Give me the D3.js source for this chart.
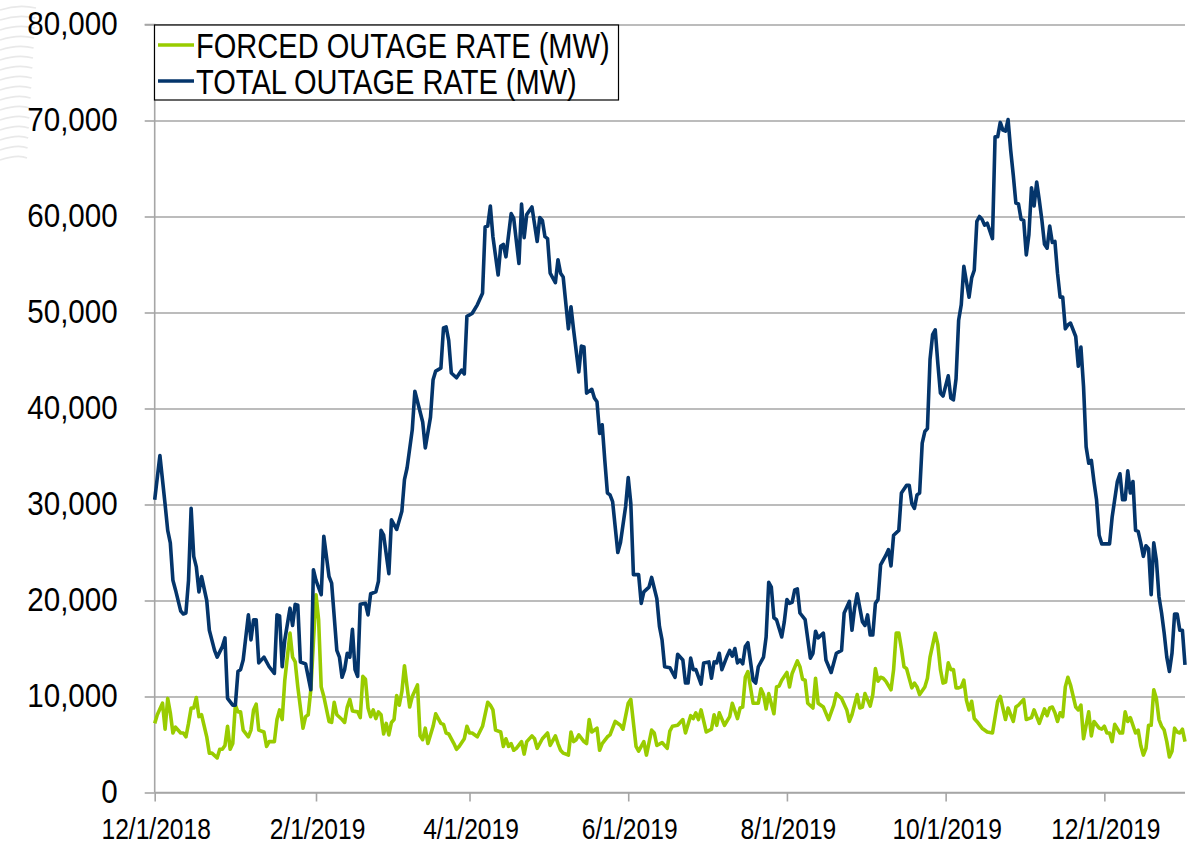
<!DOCTYPE html>
<html>
<head>
<meta charset="utf-8">
<script src="https://cdn.jsdelivr.net/npm/d3@7"></script>
<style>
  html, body { margin: 0; padding: 0; background: #ffffff; }
  svg { display: block; font-family: "Liberation Sans", Arial, sans-serif; }
</style>
</head>
<body>
<svg id="chart" width="1204" height="845"></svg>
<script>
'use strict';

// ---- data ----
const seriesNames = ["FORCED OUTAGE RATE (MW)", "TOTAL OUTAGE RATE (MW)"];
const seriesColors = ["#99cc00", "#04356b"];

const xTickDates = ["2018-12-01", "2019-02-01", "2019-04-01", "2019-06-01", "2019-08-01", "2019-10-01", "2019-12-01"];
const yTickValues = [0, 10000, 20000, 30000, 40000, 50000, 60000, 70000, 80000];

const totalDates = [
  "2018-12-01","2018-12-03","2018-12-05","2018-12-06","2018-12-07","2018-12-08","2018-12-09","2018-12-11","2018-12-12","2018-12-13","2018-12-14","2018-12-15","2018-12-16","2018-12-17","2018-12-18","2018-12-19","2018-12-21","2018-12-22","2018-12-24","2018-12-25","2018-12-27","2018-12-28","2018-12-29","2018-12-31",
  "2019-01-01","2019-01-02","2019-01-03","2019-01-04","2019-01-06","2019-01-07","2019-01-08","2019-01-09","2019-01-10","2019-01-12","2019-01-14","2019-01-16","2019-01-17","2019-01-18","2019-01-19","2019-01-20","2019-01-22","2019-01-23","2019-01-24","2019-01-25","2019-01-26","2019-01-28","2019-01-30","2019-01-31",
  "2019-02-01","2019-02-03","2019-02-04","2019-02-06","2019-02-07","2019-02-09","2019-02-10","2019-02-11","2019-02-12","2019-02-13","2019-02-14","2019-02-15","2019-02-16","2019-02-17","2019-02-18","2019-02-20","2019-02-21","2019-02-22","2019-02-24","2019-02-25","2019-02-26","2019-02-27",
  "2019-03-01","2019-03-02","2019-03-04","2019-03-06","2019-03-07","2019-03-08","2019-03-10","2019-03-11","2019-03-14","2019-03-15","2019-03-17","2019-03-18","2019-03-19","2019-03-21","2019-03-22","2019-03-23","2019-03-24","2019-03-25","2019-03-27","2019-03-29","2019-03-30","2019-03-31",
  "2019-04-02","2019-04-04","2019-04-06","2019-04-07","2019-04-08","2019-04-09","2019-04-10","2019-04-12","2019-04-13","2019-04-14","2019-04-15","2019-04-17","2019-04-18","2019-04-20","2019-04-21","2019-04-22","2019-04-23","2019-04-25","2019-04-27","2019-04-28","2019-04-29","2019-04-30",
  "2019-05-01","2019-05-02","2019-05-04","2019-05-05","2019-05-06","2019-05-07","2019-05-09","2019-05-10","2019-05-11","2019-05-13","2019-05-14","2019-05-15","2019-05-16","2019-05-18","2019-05-19","2019-05-20","2019-05-21","2019-05-22","2019-05-23","2019-05-24","2019-05-25","2019-05-26","2019-05-28","2019-05-29","2019-05-31",
  "2019-06-01","2019-06-02","2019-06-03","2019-06-05","2019-06-06","2019-06-07","2019-06-09","2019-06-10","2019-06-12","2019-06-13","2019-06-14","2019-06-15","2019-06-17","2019-06-19","2019-06-20","2019-06-22","2019-06-23","2019-06-24","2019-06-25","2019-06-26","2019-06-27","2019-06-29","2019-06-30",
  "2019-07-02","2019-07-03","2019-07-04","2019-07-05","2019-07-06","2019-07-07","2019-07-09","2019-07-10","2019-07-11","2019-07-12","2019-07-13","2019-07-14","2019-07-15","2019-07-16","2019-07-17","2019-07-19","2019-07-20","2019-07-21","2019-07-23","2019-07-24","2019-07-25","2019-07-26","2019-07-27","2019-07-28","2019-07-30","2019-07-31",
  "2019-08-01","2019-08-02","2019-08-03","2019-08-04","2019-08-05","2019-08-06","2019-08-08","2019-08-10","2019-08-11","2019-08-12","2019-08-13","2019-08-15","2019-08-16","2019-08-18","2019-08-20","2019-08-22","2019-08-23","2019-08-25","2019-08-26","2019-08-27","2019-08-28","2019-08-30","2019-08-31",
  "2019-09-01","2019-09-02","2019-09-03","2019-09-04","2019-09-05","2019-09-06","2019-09-08","2019-09-09","2019-09-10","2019-09-11","2019-09-13","2019-09-14","2019-09-16","2019-09-17","2019-09-18","2019-09-19","2019-09-20","2019-09-21","2019-09-22","2019-09-23","2019-09-24","2019-09-25","2019-09-26","2019-09-27","2019-09-28","2019-09-29","2019-09-30",
  "2019-10-02","2019-10-03","2019-10-04","2019-10-05","2019-10-06","2019-10-07","2019-10-08","2019-10-09","2019-10-10","2019-10-11","2019-10-12","2019-10-13","2019-10-14","2019-10-15","2019-10-16","2019-10-17","2019-10-19","2019-10-20","2019-10-21","2019-10-22","2019-10-23","2019-10-24","2019-10-25","2019-10-26","2019-10-27","2019-10-28","2019-10-29","2019-10-30","2019-10-31",
  "2019-11-01","2019-11-02","2019-11-03","2019-11-04","2019-11-05","2019-11-06","2019-11-07","2019-11-08","2019-11-09","2019-11-10","2019-11-11","2019-11-12","2019-11-13","2019-11-14","2019-11-15","2019-11-16","2019-11-17","2019-11-18","2019-11-20","2019-11-21","2019-11-22","2019-11-23","2019-11-24","2019-11-25","2019-11-26","2019-11-27","2019-11-28","2019-11-29","2019-11-30",
  "2019-12-03","2019-12-04","2019-12-06","2019-12-07","2019-12-08","2019-12-09","2019-12-10","2019-12-11","2019-12-12","2019-12-13","2019-12-14","2019-12-15","2019-12-16","2019-12-17","2019-12-18","2019-12-19","2019-12-20","2019-12-21","2019-12-22","2019-12-23","2019-12-24","2019-12-25","2019-12-26","2019-12-27","2019-12-28","2019-12-29","2019-12-30","2019-12-31",
  "2020-01-01"
];
const totalMW = [
  30500,35100,30000,27300,26000,22100,21100,18900,18600,18700,22100,29600,24600,23500,20900,22500,20000,16900,14800,14100,15200,16100,9800,9100,
  9100,12600,12800,13800,18500,15900,18000,18000,13500,14100,13100,12400,18500,18400,13100,15900,19200,17400,19600,19500,13600,13400,10700,23200,
  22100,20600,26700,22500,21800,14800,14100,12000,12800,14500,14100,17000,12800,12100,19600,19700,18500,20700,20900,22000,27300,26800,
  22800,28400,27400,29300,32600,33800,37800,41800,38600,35900,39100,43000,43900,44200,48400,48500,47100,43700,43200,44000,43600,49600,
  49900,50800,52000,58900,59000,61100,57900,53900,56900,57100,55800,60300,59800,55100,61300,57800,60200,61000,57400,59900,59600,57900,
  57700,54100,53100,55500,54100,53700,48300,50600,48200,43800,46500,46400,41600,42000,41100,40700,37400,38300,34600,31200,31000,30300,25000,26000,29800,
  32800,30100,22700,22700,19700,20900,21400,22400,20200,17300,15900,13100,13000,12000,14400,13800,11400,11400,14000,12800,12800,11300,13500,
  13600,11900,13600,13500,14500,12800,14200,14800,14200,15000,13500,13800,13400,15200,15600,11700,11400,13100,14100,16200,21900,21400,18200,18000,16200,17800,
  20100,19700,19800,21100,21200,18700,18000,14000,14500,16800,16100,16600,13800,12500,14500,14800,18700,19900,16900,19200,20700,17800,17400,
  18500,16400,16400,19700,20100,23700,24700,25300,23600,26800,27300,31200,32000,32000,30100,29600,31000,31200,36400,37600,37900,45100,47700,48200,44700,41600,41300,
  43400,41100,40900,43100,49200,50800,54800,53200,51600,53600,54400,59500,60000,59700,59100,59300,57700,68300,68300,69800,69000,68900,70100,66900,64300,61400,61300,59700,59600,
  56000,58100,63000,61100,63600,61700,59600,57100,56700,59000,57300,57400,54100,51600,51600,48300,48700,48900,47500,44400,46400,42300,36000,34300,34600,32400,30500,26800,25900,
  25900,28700,32400,33200,30500,30500,33500,31200,32400,27300,27200,26000,24600,25700,25400,20600,26000,24200,20400,18700,16600,14100,12600,14500,18600,18600,16900,16900,
  13300
];

const forcedDates = [
  "2018-12-01","2018-12-02","2018-12-04","2018-12-05","2018-12-06","2018-12-07","2018-12-08","2018-12-09","2018-12-11","2018-12-12","2018-12-13","2018-12-14","2018-12-15","2018-12-16","2018-12-17","2018-12-18","2018-12-19","2018-12-21","2018-12-22","2018-12-23","2018-12-25","2018-12-26","2018-12-27","2018-12-28","2018-12-29","2018-12-30","2018-12-31",
  "2019-01-01","2019-01-02","2019-01-03","2019-01-04","2019-01-06","2019-01-07","2019-01-08","2019-01-09","2019-01-10","2019-01-12","2019-01-13","2019-01-14","2019-01-16","2019-01-17","2019-01-18","2019-01-19","2019-01-20","2019-01-22","2019-01-23","2019-01-24","2019-01-25","2019-01-27","2019-01-28","2019-01-29","2019-01-30",
  "2019-02-01","2019-02-02","2019-02-03","2019-02-04","2019-02-06","2019-02-07","2019-02-08","2019-02-09","2019-02-11","2019-02-12","2019-02-13","2019-02-14","2019-02-15","2019-02-17","2019-02-18","2019-02-19","2019-02-20","2019-02-21","2019-02-22","2019-02-23","2019-02-24","2019-02-25","2019-02-26","2019-02-27","2019-02-28",
  "2019-03-01","2019-03-02","2019-03-03","2019-03-04","2019-03-05","2019-03-06","2019-03-07","2019-03-08","2019-03-09","2019-03-10","2019-03-12","2019-03-13","2019-03-14","2019-03-15","2019-03-16","2019-03-18","2019-03-19","2019-03-21","2019-03-22","2019-03-23","2019-03-24","2019-03-26","2019-03-27","2019-03-28","2019-03-30","2019-03-31",
  "2019-04-01","2019-04-02","2019-04-04","2019-04-06","2019-04-08","2019-04-09","2019-04-10","2019-04-11","2019-04-13","2019-04-14","2019-04-15","2019-04-16","2019-04-17","2019-04-18","2019-04-19","2019-04-21","2019-04-22","2019-04-23","2019-04-25","2019-04-26","2019-04-27","2019-04-29",
  "2019-05-01","2019-05-02","2019-05-04","2019-05-05","2019-05-06","2019-05-07","2019-05-09","2019-05-10","2019-05-11","2019-05-12","2019-05-13","2019-05-15","2019-05-16","2019-05-17","2019-05-18","2019-05-20","2019-05-21","2019-05-22","2019-05-24","2019-05-25","2019-05-27","2019-05-29","2019-05-30",
  "2019-06-01","2019-06-02","2019-06-04","2019-06-05","2019-06-07","2019-06-08","2019-06-10","2019-06-11","2019-06-12","2019-06-14","2019-06-16","2019-06-17","2019-06-18","2019-06-20","2019-06-22","2019-06-23","2019-06-25","2019-06-26","2019-06-27","2019-06-28","2019-06-29",
  "2019-07-01","2019-07-03","2019-07-04","2019-07-05","2019-07-06","2019-07-08","2019-07-10","2019-07-11","2019-07-13","2019-07-14","2019-07-15","2019-07-16","2019-07-17","2019-07-19","2019-07-21","2019-07-22","2019-07-23","2019-07-24","2019-07-25","2019-07-27","2019-07-28","2019-07-29","2019-07-30",
  "2019-08-01","2019-08-02","2019-08-03","2019-08-05","2019-08-06","2019-08-07","2019-08-08","2019-08-09","2019-08-11","2019-08-12","2019-08-13","2019-08-15","2019-08-17","2019-08-19","2019-08-20","2019-08-22","2019-08-24","2019-08-25","2019-08-26","2019-08-28","2019-08-29","2019-08-30","2019-08-31",
  "2019-09-02","2019-09-03","2019-09-04","2019-09-05","2019-09-06","2019-09-07","2019-09-08","2019-09-10","2019-09-11","2019-09-12","2019-09-13","2019-09-14","2019-09-15","2019-09-16","2019-09-18","2019-09-19","2019-09-20","2019-09-21","2019-09-23","2019-09-24","2019-09-25","2019-09-27","2019-09-28","2019-09-29","2019-09-30",
  "2019-10-01","2019-10-02","2019-10-03","2019-10-04","2019-10-05","2019-10-06","2019-10-07","2019-10-08","2019-10-09","2019-10-10","2019-10-11","2019-10-12","2019-10-13","2019-10-15","2019-10-17","2019-10-19","2019-10-21","2019-10-22","2019-10-24","2019-10-25","2019-10-27","2019-10-28","2019-10-29","2019-10-31",
  "2019-11-01","2019-11-03","2019-11-04","2019-11-05","2019-11-06","2019-11-08","2019-11-09","2019-11-10","2019-11-11","2019-11-12","2019-11-13","2019-11-14","2019-11-15","2019-11-16","2019-11-17","2019-11-18","2019-11-20","2019-11-21","2019-11-22","2019-11-23","2019-11-25","2019-11-26","2019-11-27","2019-11-29","2019-11-30",
  "2019-12-01","2019-12-02","2019-12-03","2019-12-04","2019-12-05","2019-12-07","2019-12-08","2019-12-09","2019-12-10","2019-12-11","2019-12-13","2019-12-14","2019-12-15","2019-12-16","2019-12-17","2019-12-18","2019-12-19","2019-12-20","2019-12-21","2019-12-22","2019-12-23","2019-12-24","2019-12-25","2019-12-26","2019-12-27","2019-12-28","2019-12-29","2019-12-30","2019-12-31",
  "2020-01-01"
];
const forcedMW = [
  7200,8100,9300,6600,9800,8300,6200,6800,6200,6200,5800,7200,8800,8800,9900,7900,8100,5800,4100,4100,3600,4500,4500,4900,6900,4500,5100,
  9100,8400,8400,6500,5800,6500,8600,9200,6500,6300,4800,5300,5300,7600,8600,7600,11700,16600,14100,13600,11000,6700,7900,8100,10700,
  20600,18000,11000,10000,7400,7300,9400,8100,7600,7300,8900,9700,8500,8400,7800,12100,11800,8800,7900,8600,7700,8400,8100,6100,7200,
  6000,7300,7600,10100,9100,10500,13200,11000,8900,10000,11200,5900,5500,6700,5100,6900,8200,7200,7100,6200,6100,5100,4500,4800,5600,6900,
  6200,6200,5800,6900,9400,9100,8600,6500,6300,4800,5600,4800,5100,4400,4600,5300,4000,5300,5900,5600,4600,5600,
  6200,4900,5900,5100,4400,4100,3900,6300,5300,5500,6000,5300,5100,7600,6300,6700,4400,5100,5800,6000,7400,7000,6600,
  9300,9700,4800,4300,5300,3900,6500,6200,4900,5200,4600,6400,6900,7000,7600,6200,8000,7700,8300,7600,8600,
  6300,6600,8100,7000,8300,7000,7900,9300,7700,8800,8900,12000,12600,9300,9300,10800,10200,8700,10300,8200,11000,11100,11700,
  12500,11000,12400,13700,13100,11800,11700,9300,8800,11900,9300,8900,7600,9100,10300,9800,8600,7400,8100,10200,8800,8900,10300,
  9000,10200,12900,11600,12000,11900,11600,10700,12800,16600,16600,15000,13100,12900,10900,11400,11000,10200,11000,11900,14100,16600,15400,12800,11400,
  11500,13500,12800,12800,10900,10900,11000,11700,9600,8600,9500,7700,7400,6700,6300,6200,9500,10000,7600,8800,7400,8900,9100,9700,
  7600,7800,8600,7900,7200,8700,8000,8800,8900,8300,7400,8300,7900,11000,12000,11200,8900,8600,9100,5600,8400,5900,7400,6700,6600,
  6900,6200,6200,5300,7100,6200,6200,8400,7400,7800,6200,6500,4900,3900,4600,7000,7000,10700,9800,7600,6900,6500,5300,3700,4300,6700,6300,6200,6600,
  5300
];

// ---- layout ----
const svg = d3.select("#chart");
const plotLeft = 154.7, plotRight = 1185, plotTop = 24.5, plotBottom = 792.5;
const axisGray = "#a6a6a6";
const parseDay = d3.timeParse("%Y-%m-%d");

const x = d3.scaleTime()
  .domain([parseDay("2018-12-01"), parseDay("2020-01-01")])
  .range([plotLeft, plotRight]);
const y = d3.scaleLinear()
  .domain([0, 80000])
  .range([plotBottom, plotTop]);

// faint background swirl at the top-left corner
const deco = svg.append("g").attr("fill", "none").attr("stroke", "#e9e9e9").attr("stroke-width", 1.6);
d3.range(16).forEach(i => {
  const yy = 6 + i * 10;
  deco.append("path").attr("d", `M0,${yy + 4} Q18,${yy - 2} ${36 - i * 0.6},${yy + 2}`);
});

// gridlines
svg.append("g")
  .attr("transform", `translate(${plotLeft},0)`)
  .call(d3.axisLeft(y).tickValues(yTickValues).tickSize(-(plotRight - plotLeft)).tickFormat(""))
  .call(g => g.select(".domain").remove())
  .call(g => g.selectAll(".tick line").attr("stroke", axisGray).attr("stroke-width", 1.6));

// y axis with outside ticks and labels
const yAxisG = svg.append("g")
  .attr("transform", `translate(${plotLeft},0)`)
  .call(d3.axisLeft(y).tickValues(yTickValues).tickSize(10).tickFormat(d3.format(",")));
yAxisG.select(".domain").attr("stroke", axisGray).attr("stroke-width", 1.6).attr("d", `M-10,${plotTop}H0V${plotBottom}`);
yAxisG.selectAll(".tick line").attr("stroke", axisGray).attr("stroke-width", 1.6);
yAxisG.selectAll(".tick text")
  .attr("x", null).attr("dy", null).attr("y", 10)
  .attr("transform", "translate(-37,0) scale(0.87,1)")
  .attr("text-anchor", "end")
  .attr("fill", "#000")
  .style("font-size", "34px")
  .style("font-family", "'Liberation Sans', Arial, sans-serif");

// x axis
const xAxisG = svg.append("g")
  .attr("transform", `translate(0,${plotBottom})`)
  .call(d3.axisBottom(x).tickValues(xTickDates.map(parseDay)).tickSize(9).tickFormat(d3.timeFormat("%-m/%-d/%Y")));
xAxisG.select(".domain").attr("stroke", axisGray).attr("stroke-width", 1.6).attr("d", `M${plotLeft},0H${plotRight}`);
xAxisG.selectAll(".tick line").attr("stroke", axisGray).attr("stroke-width", 1.6);
xAxisG.selectAll(".tick text")
  .attr("y", 0).attr("dy", null)
  .attr("transform", "translate(1,46.5) scale(0.82,1)")
  .attr("text-anchor", "middle")
  .attr("fill", "#000")
  .style("font-size", "30px")
  .style("font-family", "'Liberation Sans', Arial, sans-serif");

// lines
const line = d3.line()
  .x(d => x(d.date))
  .y(d => y(d.value));

const forcedData = d3.zip(forcedDates, forcedMW).map(([d, v]) => ({ date: parseDay(d), value: v }));
const totalData = d3.zip(totalDates, totalMW).map(([d, v]) => ({ date: parseDay(d), value: v }));

[forcedData, totalData].forEach((data, i) => {
  svg.append("path")
    .datum(data)
    .attr("fill", "none")
    .attr("stroke", seriesColors[i])
    .attr("stroke-width", 3.6)
    .attr("stroke-linejoin", "round")
    .attr("d", line);
});

// legend
const legend = svg.append("g");
legend.append("rect")
  .attr("x", 154.5).attr("y", 25).attr("width", 464).attr("height", 75)
  .attr("fill", "#fff").attr("stroke", "#000").attr("stroke-width", 1.2);
seriesNames.forEach((name, i) => {
  const baseY = 58 + i * 36;
  legend.append("line")
    .attr("x1", 158).attr("x2", 194)
    .attr("y1", baseY - 13).attr("y2", baseY - 13)
    .attr("stroke", seriesColors[i]).attr("stroke-width", 3.6);
  legend.append("text")
    .attr("transform", `translate(196,${baseY}) scale(0.83,1)`)
    .style("font-size", "35px")
    .attr("fill", "#000")
    .text(name);
});
</script>
</body>
</html>
